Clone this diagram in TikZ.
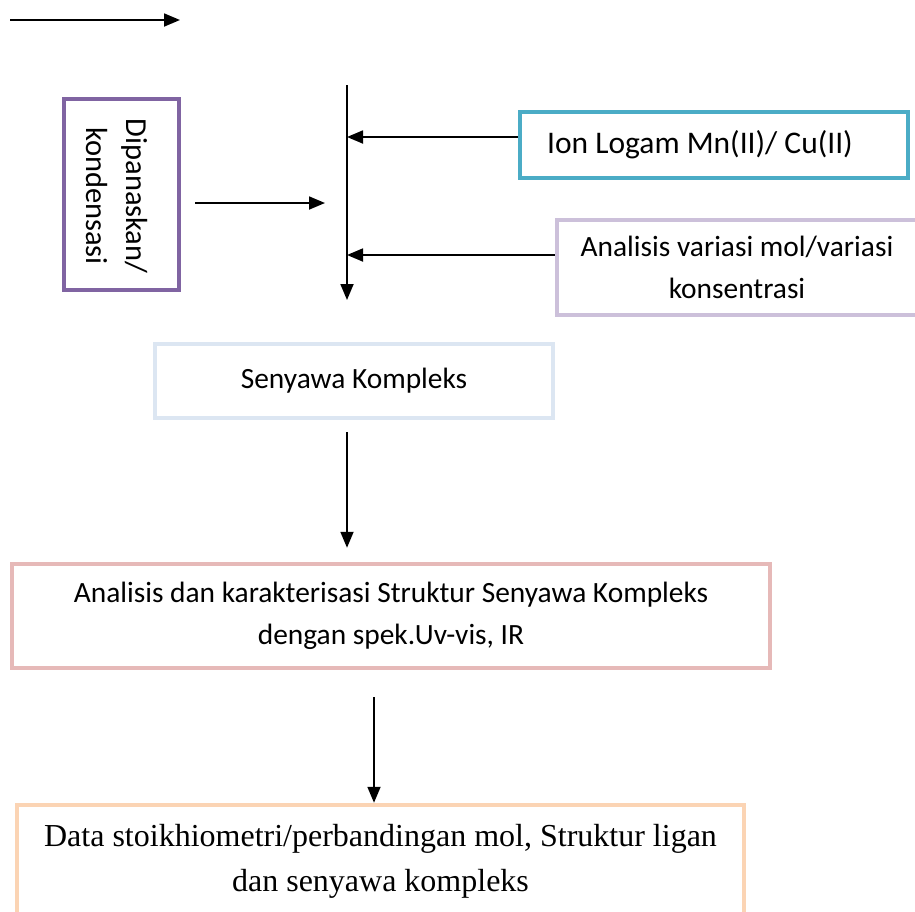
\documentclass[tikz,border=0pt]{standalone}
\usepackage{fontspec}
\setmainfont{Carlito}
\newfontfamily\tnr{Liberation Serif}
\usetikzlibrary{arrows.meta}
\definecolor{cpurple}{HTML}{8064A2}
\definecolor{cteal}{HTML}{4BACC6}
\definecolor{clilac}{HTML}{CCC0DA}
\definecolor{cblue}{HTML}{DCE6F2}
\definecolor{crose}{HTML}{E6B9B8}
\definecolor{cpeach}{HTML}{FBD4B4}
\tikzset{
  box/.style={draw, line width=4.5pt, inner sep=0pt, align=center, fill=white, font=\fontsize{29.4}{42}\selectfont},
  arr/.style={line width=1.8pt, -{Triangle[length=16pt,width=13pt]}},
}
\begin{document}
\begin{tikzpicture}[x=1pt,y=-1pt]
\useasboundingbox (0,0) rectangle (915,911);
\begin{scope}
\clip (0,0) rectangle (915,911);
% nodes
\node[box, draw=cpurple, minimum width=115pt, minimum height=191pt] (heat) at (121.5,194.5) {};
\node[rotate=-90, align=center, font=\fontsize{30.5}{40}\selectfont] (heattxt) at (117,196) {Dipanaskan/\\kondensasi};
\node[box, draw=cteal, minimum width=388pt, minimum height=66pt, font=\fontsize{31.5}{42}\selectfont] (ion) at (714,145) {\hspace*{-28pt}Ion Logam Mn(II)/ Cu(II)};
\node[box, draw=clilac, minimum width=360pt, minimum height=95pt] (var) at (737,267.5) {Analisis variasi mol/variasi\\konsentrasi};
\node[box, draw=cblue, minimum width=398pt, minimum height=74pt] (sen) at (354,381) {Senyawa Kompleks};
\node[box, draw=crose, minimum width=758pt, minimum height=104pt] (anal) at (391,616) {Analisis dan karakterisasi Struktur Senyawa Kompleks\\dengan spek.Uv-vis, IR};
\node[box, draw=cpeach, minimum width=727pt, minimum height=112pt, font=\tnr\fontsize{32}{45}\selectfont] (data) at (380.5,861) {Data stoikhiometri/perbandingan mol, Struktur ligan\\dan senyawa kompleks};
\end{scope}
% coordinates
\coordinate (t0) at (10,20);
\coordinate (t1) at (180,20);
\coordinate (vtop) at (347,85);
\coordinate (vbot) at (347,300);
\coordinate (h0) at (195,203);
\coordinate (h1) at (325,203);
\coordinate (s0) at (347,432);
\coordinate (d0) at (374,697);
% connectors
\draw[arr] (t0) -- (t1);
\draw[arr] (vtop) -- (vbot);
\draw[arr] (h0) -- (h1);
\draw[arr] ([yshift=8pt]ion.west) -- ([yshift=8pt]ion.west -| vtop);
\draw[arr] ([yshift=12.5pt]var.west) -- ([yshift=12.5pt]var.west -| vtop);
\draw[arr, shorten >=14pt] (s0) -- (s0 |- anal.north);
\draw[arr] (d0) -- (d0 |- data.north);
\end{tikzpicture}
\end{document}
